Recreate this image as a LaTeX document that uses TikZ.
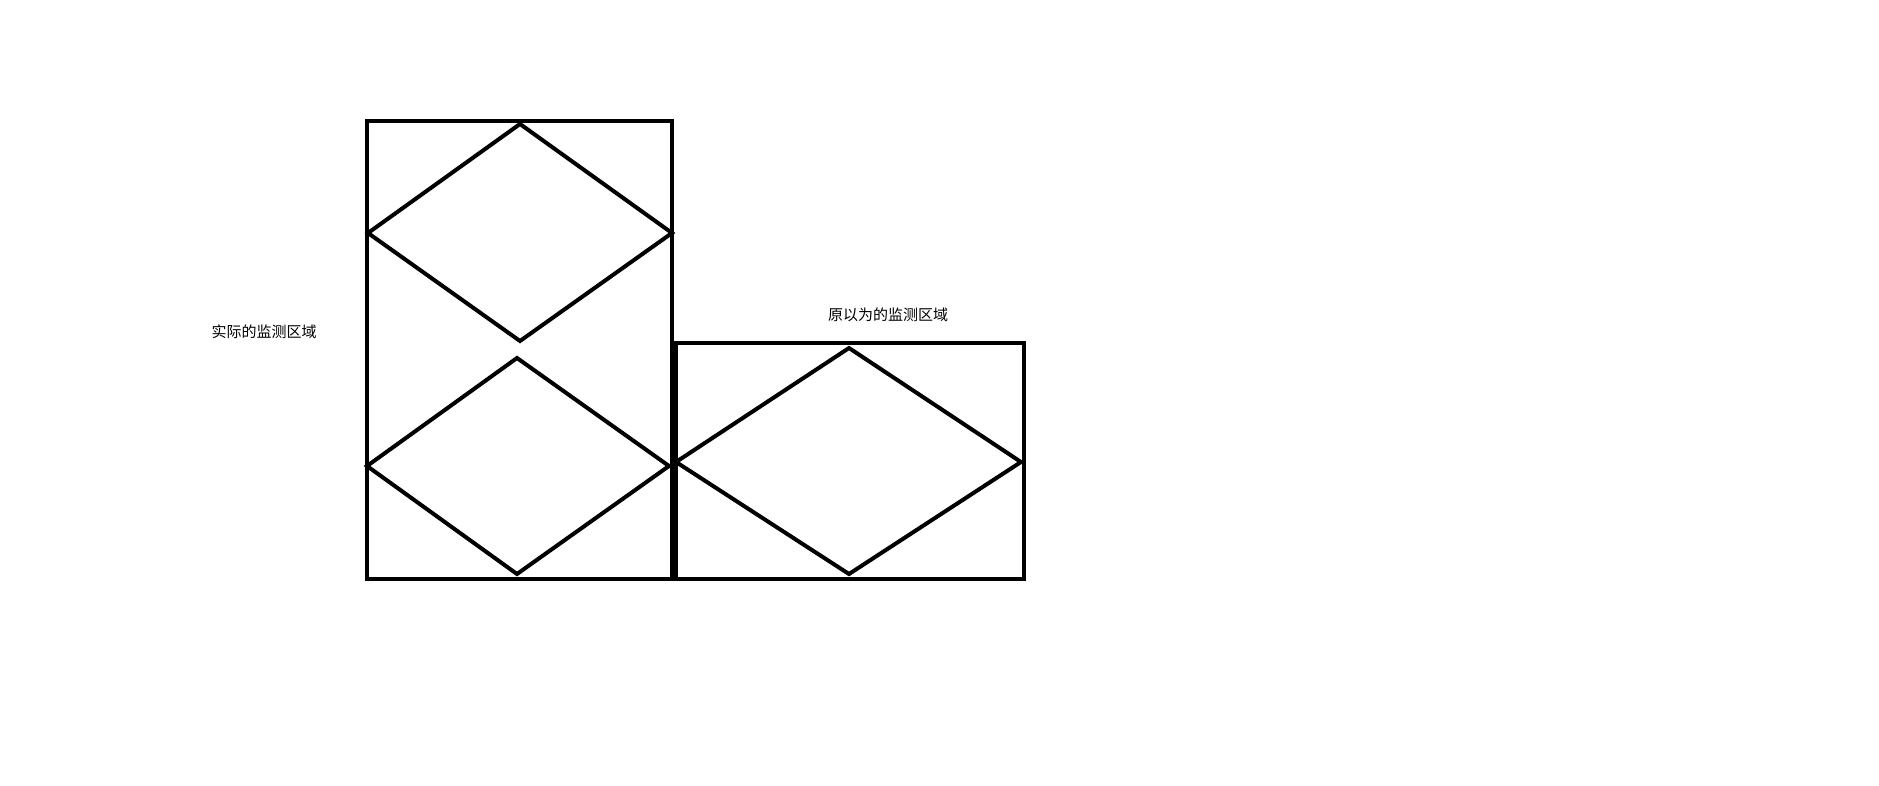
\documentclass[tikz,border=0pt]{standalone}
\usepackage{fontspec}
\newfontfamily\cjk{Noto Sans CJK SC}
\begin{document}
\begin{tikzpicture}[x=1pt,y=-1pt,
  frame/.style={draw=black,line width=4.5pt,line join=miter},
  diam/.style={draw=black,line width=4pt,line join=miter},
  lbl/.style={font=\cjk\fontsize{15}{17}\selectfont,text=black,inner sep=0pt}]
\useasboundingbox[fill=white] (0,0) rectangle (1879,785);
% left rectangle
\draw[frame] (367,121) rectangle (672,579);
% right rectangle
\draw[frame] (676,343) rectangle (1024,579);
% diamonds
\coordinate (d1t) at (520,124);
\coordinate (d1l) at (368,233);
\coordinate (d1r) at (672,233);
\coordinate (d1b) at (520,341);
\draw[diam] (d1t) -- (d1r) -- (d1b) -- (d1l) -- cycle;
\coordinate (d2t) at (517,358);
\coordinate (d2l) at (367,466);
\coordinate (d2r) at (669,466);
\coordinate (d2b) at (517,574);
\draw[diam] (d2t) -- (d2r) -- (d2b) -- (d2l) -- cycle;
\coordinate (d3t) at (849,348);
\coordinate (d3l) at (676,462);
\coordinate (d3r) at (1021,462);
\coordinate (d3b) at (849,574);
\draw[diam] (d3t) -- (d3r) -- (d3b) -- (d3l) -- cycle;
% labels
\node[lbl] (actual) at (264,332) {实际的监测区域};
\node[lbl] (assumed) at (888,315) {原以为的监测区域};
\end{tikzpicture}
\end{document}
